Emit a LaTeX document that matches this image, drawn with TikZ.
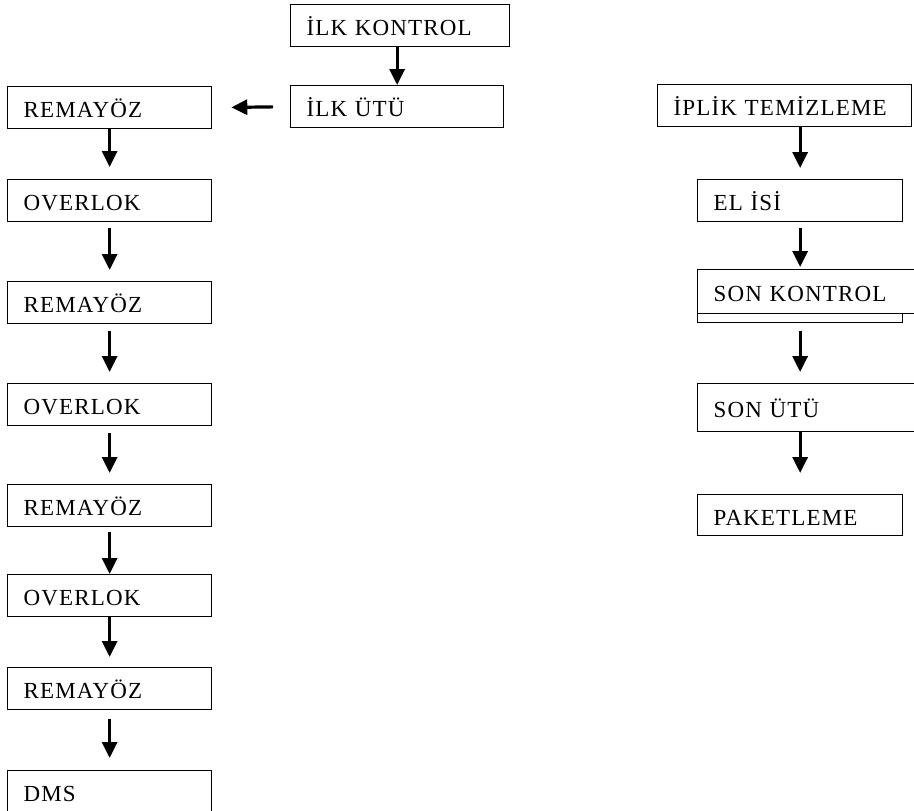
\documentclass[tikz,border=0pt]{standalone}
\usepackage{fontspec}
\setmainfont[LetterSpace=5]{Liberation Serif}
\usetikzlibrary{arrows.meta}

\begin{document}
\begin{tikzpicture}[x=1pt, y=-1pt,
  stage/.style = {rectangle, draw, line width=1.3pt, fill=white, anchor=north west,
    minimum height=42pt, text width=#1-32pt, inner xsep=16pt, inner ysep=0pt,
    text height=20pt, text depth=0pt, align=left, font=\fontsize{23}{25}\selectfont},
  flow/.style = {line width=3.2pt, -{Triangle[width=15pt,length=16pt]}}]

\useasboundingbox (0,0) rectangle (914,811);
\clip (0,0) rectangle (914,811);

\node[stage=219pt] (ilkkon) at (290,4) {İLK KONTROL};
\node[stage=213pt] (ilkutu) at (290,85) {İLK ÜTÜ};

\node[stage=204pt] (rem1) at (7,86) {REMAYÖZ};
\node[stage=204pt] (ovr1) at (7,179) {OVERLOK};
\node[stage=204pt] (rem2) at (7,281) {REMAYÖZ};
\node[stage=204pt] (ovr2) at (7,383) {OVERLOK};
\node[stage=204pt] (rem3) at (7,484) {REMAYÖZ};
\node[stage=204pt] (ovr3) at (7,574) {OVERLOK};
\node[stage=204pt] (rem4) at (7,667) {REMAYÖZ};
\node[stage=204pt] (dms) at (7,770) {DMS};

\node[stage=254pt] (iplik) at (657,84) {İPLİK TEMİZLEME};
\node[stage=205pt] (elisi) at (697,179) {EL İSİ};
\node[stage=205pt, minimum height=43pt] (sonalt) at (697,279) {};
\node[stage=235pt, minimum height=44pt] (sonkon) at (697,269) {SON KONTROL};
\node[stage=235pt, minimum height=48pt] (sonutu) at (697,383) {SON ÜTÜ};
\node[stage=205pt, minimum height=41pt] (paket) at (697,494) {PAKETLEME};

\draw[flow] (ilkkon.south -| ilkutu.north) -- (ilkutu.north);
\draw[flow, shorten <=17pt, shorten >=19pt] (ilkutu.west) -- (rem1.east);

\draw[flow, shorten >=12pt] (rem1.south) -- (ovr1.north);
\draw[flow, shorten <=6pt, shorten >=11pt] (ovr1.south) -- (rem2.north);
\draw[flow, shorten <=7pt, shorten >=11pt] (rem2.south) -- (ovr2.north);
\draw[flow, shorten <=7pt, shorten >=11pt] (ovr2.south) -- (rem3.north);
\draw[flow, shorten <=5pt] (rem3.south) -- (ovr3.north);
\draw[flow, shorten >=10pt] (ovr3.south) -- (rem4.north);
\draw[flow, shorten <=9pt, shorten >=12pt] (rem4.south) -- (dms.north);

\draw[flow, shorten >=11pt] (iplik.south -| elisi.north) -- (elisi.north);
\draw[flow, shorten <=6pt, shorten >=2pt] (elisi.south) -- (sonkon.north -| elisi.south);
\draw[flow, shorten <=8pt, shorten >=11pt] (sonalt.south) -- (sonutu.north -| sonalt.south);
\draw[flow, shorten >=21pt] (sonutu.south -| paket.north) -- (paket.north);

\end{tikzpicture}
\end{document}
